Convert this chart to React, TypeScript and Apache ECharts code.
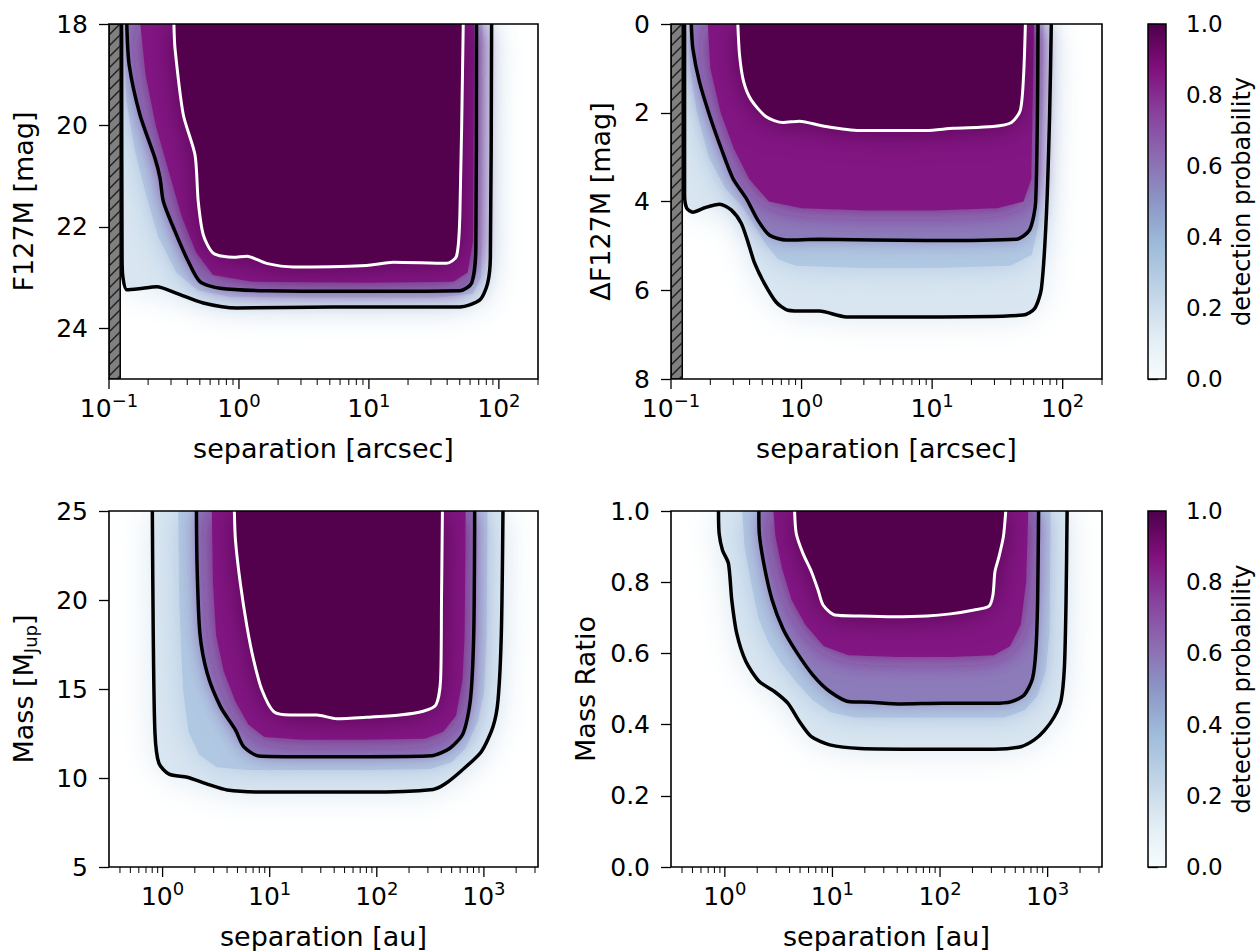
import React, { useEffect, useRef } from 'react';
import * as echarts from 'echarts';

type Pt = [number, number];

const FONT = 'DejaVu Sans';
const TEXT = '#000000';

// BuPu colormap stops (0 -> 1)
const BUPU = ['#f7fcfd', '#e0ecf4', '#bfd3e6', '#9ebcda', '#8c96c6', '#8c6bb1', '#88419d', '#810f7c', '#4d004b'];

// detection-probability levels of the contour arrays (0.3 and 0.7 only shade, not drawn as lines)
const contourLevels = [0.1, 0.3, 0.5, 0.7, 0.9];

// ---------- ticks ----------
const arcsecMajorTicks = [0.1, 1, 10, 100];
const arcsecMinorTicks = [0.2, 0.3, 0.4, 0.5, 0.6, 0.7, 0.8, 0.9, 2, 3, 4, 5, 6, 7, 8, 9, 20, 30, 40, 50, 60, 70, 80, 90, 200];
const auMajorTicks = [1, 10, 100, 1000];
const auMinorTicks = [0.4, 0.5, 0.6, 0.7, 0.8, 0.9, 2, 3, 4, 5, 6, 7, 8, 9, 20, 30, 40, 50, 60, 70, 80, 90, 200, 300, 400, 500, 600, 700, 800, 900, 2000, 3000];
const magTicks = [18, 20, 22, 24];
const dmagTicks = [0, 2, 4, 6, 8];
const massTicks = [5, 10, 15, 20, 25];
const ratioTicks = [0, 0.2, 0.4, 0.6, 0.8, 1.0];
const probTicks = [0, 0.2, 0.4, 0.6, 0.8, 1.0];

// inner working angle (hatched), arcsec
const innerWorkingAngle = 0.122;

// ---------- top-left: F127M vs separation [arcsec] ----------
const tlC10: Pt[] = [[0.125, 18], [0.126, 22.6], [0.128, 23.0], [0.137, 23.24], [0.17, 23.22], [0.233, 23.18], [0.332, 23.31], [0.532, 23.5], [0.96, 23.6], [5.3, 23.58], [50, 23.58], [71.4, 23.44], [82, 23.11], [86, 22.6], [87.9, 18]];
const tlC30: Pt[] = [[0.131, 18], [0.136, 19.5], [0.158, 20.5], [0.19, 21.3], [0.24, 22.2], [0.33, 22.9], [0.48, 23.25], [0.85, 23.38], [3.16, 23.4], [31.6, 23.4], [63.1, 23.32], [73, 23.0], [75, 18]];
const tlC50: Pt[] = [[0.137, 18], [0.143, 18.81], [0.173, 19.79], [0.226, 20.65], [0.247, 21.04], [0.262, 21.5], [0.322, 22.09], [0.407, 22.68], [0.501, 23.08], [0.714, 23.21], [1.63, 23.26], [9.59, 23.27], [50.1, 23.26], [61.7, 23.11], [66.5, 22.42], [67.3, 18]];
const tlC70: Pt[] = [[0.174, 18], [0.191, 19], [0.229, 20], [0.295, 21], [0.363, 21.8], [0.468, 22.5], [0.631, 22.95], [1.26, 23.08], [10, 23.1], [44.7, 23.08], [57.5, 22.9], [63.1, 22.3], [64.6, 18]];
const tlC90: Pt[] = [[0.316, 18], [0.322, 18.48], [0.373, 19.79], [0.459, 20.58], [0.486, 21.5], [0.532, 22.16], [0.635, 22.52], [0.904, 22.6], [1.15, 22.58], [1.63, 22.72], [2.62, 22.79], [9.59, 22.76], [15.4, 22.7], [39.5, 22.72], [47.2, 22.58], [50.1, 21.76], [53.2, 18]];

// ---------- top-right: delta F127M vs separation [arcsec] ----------
const trC10: Pt[] = [[0.127, 0], [0.127, 3.85], [0.132, 4.15], [0.147, 4.24], [0.181, 4.14], [0.236, 4.06], [0.289, 4.19], [0.345, 4.49], [0.388, 4.91], [0.437, 5.39], [0.52, 5.85], [0.64, 6.27], [0.785, 6.45], [1.09, 6.47], [1.37, 6.47], [2.2, 6.6], [9.02, 6.6], [49.7, 6.56], [61.0, 6.41], [68.7, 5.96], [75.0, 4.31], [79.4, 2.05], [81.8, 0]];
const trC30: Pt[] = [[0.137, 0], [0.14, 1.0], [0.158, 2.0], [0.195, 3.0], [0.26, 3.7], [0.35, 4.1], [0.43, 4.5], [0.53, 4.95], [0.66, 5.3], [0.9, 5.45], [3.16, 5.5], [10, 5.5], [39.8, 5.45], [58, 5.2], [65.5, 4.5], [70, 2.0], [71.5, 0]];
const trC50: Pt[] = [[0.143, 0], [0.147, 0.55], [0.165, 1.3], [0.197, 2.05], [0.242, 2.8], [0.298, 3.48], [0.377, 3.93], [0.462, 4.42], [0.569, 4.76], [0.762, 4.87], [1.37, 4.85], [9.02, 4.88], [44.2, 4.85], [55.8, 4.64], [62.1, 4.0], [64.7, 0]];
const trC70: Pt[] = [[0.191, 0], [0.2, 1.0], [0.24, 2.0], [0.302, 2.8], [0.398, 3.5], [0.562, 4.0], [1.0, 4.15], [3.16, 4.2], [10, 4.2], [31.6, 4.15], [50.1, 4.0], [57.5, 3.5], [60.3, 0]];
const trC90: Pt[] = [[0.325, 0], [0.335, 0.7], [0.36, 1.3], [0.411, 1.71], [0.536, 2.09], [0.719, 2.22], [0.966, 2.19], [1.46, 2.3], [2.78, 2.4], [9.02, 2.4], [14.5, 2.35], [29.2, 2.31], [40.5, 2.22], [47.4, 1.94], [50.2, 1.15], [51.8, 0]];

// ---------- bottom-left: Mass [MJup] vs separation [au] ----------
const blC10: Pt[] = [[0.802, 25], [0.818, 18.13], [0.849, 12.51], [0.925, 10.82], [1.15, 10.22], [1.7, 10.04], [2.61, 9.66], [4.0, 9.33], [9.44, 9.21], [80.5, 9.21], [336, 9.36], [432, 9.66], [617, 10.41], [946, 11.48], [1216, 12.88], [1355, 14.38], [1455, 18.13], [1507, 25]];
const blC30: Pt[] = [[1.4, 25], [1.43, 20], [1.55, 15], [1.75, 12.6], [2.2, 11.3], [3.2, 10.6], [6.31, 10.45], [79.4, 10.45], [316, 10.5], [501, 10.9], [680, 11.7], [880, 13.2], [1000, 14.8], [1060, 18], [1080, 25]];
const blC50: Pt[] = [[2.07, 25], [2.1, 21.87], [2.23, 18.13], [2.61, 15.88], [3.47, 14.01], [4.79, 12.7], [5.71, 11.76], [7.89, 11.24], [19.3, 11.2], [80.5, 11.2], [324, 11.25], [481, 11.67], [640, 12.51], [748, 14.38], [804, 18.13], [820, 25]];
const blC70: Pt[] = [[2.88, 25], [2.95, 21], [3.16, 18], [3.72, 16], [4.79, 14.3], [6.31, 13.0], [8.91, 12.3], [20.0, 12.15], [79.4, 12.15], [282, 12.2], [417, 12.6], [550, 13.5], [631, 15.5], [661, 18], [676, 25]];
const blC90: Pt[] = [[4.68, 25], [4.79, 23.37], [5.32, 20.94], [6.14, 18.5], [7.08, 16.63], [8.47, 14.94], [10.9, 13.73], [15.6, 13.54], [27.5, 13.54], [42.3, 13.33], [80.5, 13.41], [164, 13.54], [271, 13.75], [356, 14.1], [394, 15.51], [402, 20.0], [410, 25]];

// ---------- bottom-right: Mass ratio vs separation [au] ----------
const brC10: Pt[] = [[0.873, 1.0], [0.885, 0.937], [0.951, 0.89], [1.08, 0.853], [1.16, 0.75], [1.29, 0.656], [1.57, 0.577], [2.09, 0.521], [2.89, 0.493], [3.85, 0.46], [4.95, 0.408], [6.37, 0.366], [9.44, 0.343], [18.0, 0.333], [75.7, 0.331], [318, 0.331], [564, 0.338], [750, 0.357], [931, 0.383], [1153, 0.422], [1334, 0.469], [1432, 0.563], [1483, 0.75], [1517, 1.0]];
const brC30: Pt[] = [[1.45, 1.0], [1.52, 0.9], [1.75, 0.8], [2.05, 0.7], [2.55, 0.63], [3.4, 0.57], [4.6, 0.52], [6.5, 0.47], [9.6, 0.435], [16.5, 0.42], [100, 0.42], [398, 0.42], [610, 0.44], [800, 0.48], [960, 0.55], [1040, 0.66], [1065, 1.0]];
const brC50: Pt[] = [[2.07, 1.0], [2.09, 0.937], [2.33, 0.844], [2.75, 0.75], [3.46, 0.67], [4.61, 0.605], [6.59, 0.539], [9.44, 0.493], [14.5, 0.464], [22.3, 0.463], [42.6, 0.458], [108, 0.46], [318, 0.46], [454, 0.464], [605, 0.483], [724, 0.53], [778, 0.61], [807, 0.75], [824, 1.0]];
const brC70: Pt[] = [[2.82, 1.0], [2.95, 0.93], [3.39, 0.84], [4.17, 0.75], [5.62, 0.68], [8.32, 0.62], [14.1, 0.595], [39.8, 0.59], [126, 0.59], [316, 0.595], [447, 0.62], [562, 0.68], [631, 0.8], [661, 1.0]];
const brC90: Pt[] = [[4.45, 1.0], [4.61, 0.937], [5.32, 0.881], [6.37, 0.83], [7.35, 0.778], [8.18, 0.736], [10.5, 0.708], [18.0, 0.705], [36.9, 0.703], [75.7, 0.705], [125, 0.711], [207, 0.722], [285, 0.733], [310, 0.764], [324, 0.83], [353, 0.872], [388, 0.928], [408, 1.0]];

// ---------- styles ----------
const LEVEL_FILLS = ['#d9e6f1', '#b0c8e2', '#8c7cba', '#821983', '#52014e'];
const LEVEL_BLUR = [36, 30, 20, 26, 30];
const LABEL_SIZE = 25;
const NAME_SIZE = 27;

const labelStyle = { fontSize: LABEL_SIZE, fontFamily: FONT, color: TEXT };
const nameStyle = { fontSize: NAME_SIZE, fontFamily: FONT, color: TEXT };

const logLabel = (v: number) => {
  const e = Math.log10(v);
  const r = Math.round(e);
  if (Math.abs(e - r) > 1e-6) return '';
  const s = r < 0 ? '\u2212' + String(-r) : String(r);
  return `{b|10}{s|${s}}`;
};
const logRich = {
  b: { fontSize: LABEL_SIZE, fontFamily: FONT, color: TEXT },
  s: { fontSize: 18, fontFamily: FONT, color: TEXT, padding: [0, 0, 16, 0] },
};

interface Panel {
  grid: any;
  xMin: number; xMax: number;
  yMin: number; yMax: number; inverse: boolean;
  yTicks: number[]; yFmt: (v: number) => string;
  yName: string; yNameGap: number; yRich?: any;
  xName: string;
  majors: number[]; minors: number[];
  contours: Pt[][];
  hatch: boolean;
}

const panels: Panel[] = [
  {
    grid: { left: 109, top: 24, width: 429, height: 355 },
    xMin: 0.1, xMax: 200, yMin: 18, yMax: 25, inverse: true,
    yTicks: magTicks, yFmt: (v) => String(v),
    yName: 'F127M [mag]', yNameGap: 72,
    xName: 'separation [arcsec]',
    majors: arcsecMajorTicks, minors: arcsecMinorTicks,
    contours: [tlC10, tlC30, tlC50, tlC70, tlC90], hatch: true,
  },
  {
    grid: { left: 671, top: 24, width: 431, height: 355 },
    xMin: 0.1, xMax: 200, yMin: 0, yMax: 8, inverse: true,
    yTicks: dmagTicks, yFmt: (v) => String(v),
    yName: '\u0394F127M [mag]', yNameGap: 57,
    xName: 'separation [arcsec]',
    majors: arcsecMajorTicks, minors: arcsecMinorTicks,
    contours: [trC10, trC30, trC50, trC70, trC90], hatch: true,
  },
  {
    grid: { left: 109, top: 511, width: 429, height: 356 },
    xMin: 0.316, xMax: 3200, yMin: 5, yMax: 25, inverse: false,
    yTicks: massTicks, yFmt: (v) => String(v),
    yName: 'Mass [M{sub|Jup}]', yNameGap: 70,
    yRich: { sub: { fontSize: 18, fontFamily: FONT, color: TEXT, padding: [14, 0, 0, 0] } },
    xName: 'separation [au]',
    majors: auMajorTicks, minors: auMinorTicks,
    contours: [blC10, blC30, blC50, blC70, blC90], hatch: false,
  },
  {
    grid: { left: 671, top: 511, width: 431, height: 356 },
    xMin: 0.316, xMax: 3200, yMin: 0, yMax: 1, inverse: false,
    yTicks: ratioTicks, yFmt: (v) => v.toFixed(1),
    yName: 'Mass Ratio', yNameGap: 72,
    xName: 'separation [au]',
    majors: auMajorTicks, minors: auMinorTicks,
    contours: [brC10, brC30, brC50, brC70, brC90], hatch: false,
  },
];

const colorbarGrids = [
  { left: 1148, top: 24, width: 18, height: 355 },
  { left: 1148, top: 511, width: 18, height: 356 },
];

function buildOption() {
  const grid: any[] = [];
  const xAxis: any[] = [];
  const yAxis: any[] = [];
  const series: any[] = [];

  panels.forEach((p, i) => {
    grid.push({ ...p.grid, show: false, containLabel: false, outerBoundsMode: 'none' });
    xAxis.push({
      gridIndex: i, type: 'log', logBase: 10, min: p.xMin, max: p.xMax,
      axisLine: { show: false }, axisTick: { show: false }, splitLine: { show: false },
      minorTick: { show: false },
      axisLabel: { formatter: logLabel, rich: logRich, margin: 12, ...labelStyle },
      name: p.xName, nameLocation: 'middle', nameGap: 56, nameMoveOverlap: false,
      nameTextStyle: nameStyle,
    });
    yAxis.push({
      gridIndex: i, type: 'value', min: p.yMin, max: p.yMax, inverse: p.inverse,
      interval: p.yTicks[1] - p.yTicks[0],
      axisLine: { show: false },
      axisTick: { show: true, length: 10, customValues: p.yTicks, lineStyle: { color: '#000', width: 1.3 } },
      axisLabel: { customValues: p.yTicks, formatter: p.yFmt, margin: 21, ...labelStyle },
      splitLine: { show: false },
      name: p.yName, nameLocation: 'middle', nameRotate: 90, nameGap: p.yNameGap, nameMoveOverlap: false,
      nameTextStyle: { ...nameStyle, rich: p.yRich || {} },
    });

    const yMid = (p.yMin + p.yMax) / 2;

    // filled probability map (nested contour regions, softened)
    series.push({
      type: 'custom', coordinateSystem: 'cartesian2d', xAxisIndex: i, yAxisIndex: i,
      clip: true, silent: true, z: 1,
      data: [[1, yMid]],
      renderItem: (_params: any, api: any) => ({
        type: 'group',
        children: p.contours.map((pts, k) => ({
          type: 'polygon',
          shape: { points: pts.map((q) => api.coord(q)) },
          style: { fill: LEVEL_FILLS[k], shadowBlur: LEVEL_BLUR[k], shadowColor: LEVEL_FILLS[k] },
        })),
      }),
    });

    // contour lines: 0.1 and 0.5 black, 0.9 white
    [0, 2, 4].forEach((k) => {
      series.push({
        type: 'line', xAxisIndex: i, yAxisIndex: i, data: p.contours[k],
        name: `p=${contourLevels[k]}`,
        showSymbol: false, symbol: 'none', smooth: 0.25, clip: true, silent: true, z: 4,
        lineStyle: { color: k === 4 ? '#ffffff' : '#000000', width: k === 4 ? 3 : 3.5 },
      });
    });

    if (p.hatch) {
      series.push({
        type: 'custom', coordinateSystem: 'cartesian2d', xAxisIndex: i, yAxisIndex: i,
        clip: true, silent: true, z: 5,
        data: [[innerWorkingAngle, yMid]],
        renderItem: (_params: any, api: any) => {
          const a = api.coord([p.xMin, p.yMin]);
          const b = api.coord([innerWorkingAngle, p.yMax]);
          const x0 = Math.min(a[0], b[0]);
          const x1 = Math.max(a[0], b[0]);
          const y0 = Math.min(a[1], b[1]);
          const y1 = Math.max(a[1], b[1]);
          const w = x1 - x0;
          const children: any[] = [
            { type: 'rect', shape: { x: x0, y: y0, width: w, height: y1 - y0 }, style: { fill: '#808080', stroke: '#000', lineWidth: 1.5 } },
          ];
          for (let y = y0; y <= y1 + w + 12; y += 11) {
            children.push({ type: 'line', shape: { x1: x0, y1: y, x2: x1, y2: y - w }, style: { stroke: '#1e1e1e', lineWidth: 1.4 } });
          }
          return { type: 'group', children };
        },
      });
    }

    // frame + x ticks
    series.push({
      type: 'custom', coordinateSystem: 'cartesian2d', xAxisIndex: i, yAxisIndex: i,
      clip: false, silent: true, z: 10,
      data: [[1, yMid]],
      renderItem: (params: any, api: any) => {
        const cs = params.coordSys;
        const bottom = cs.y + cs.height;
        const children: any[] = [
          { type: 'rect', shape: { x: cs.x, y: cs.y, width: cs.width, height: cs.height }, style: { fill: 'none', stroke: '#000', lineWidth: 1.6 } },
        ];
        p.majors.forEach((v) => {
          const x = api.coord([v, p.yMin])[0];
          children.push({ type: 'line', shape: { x1: x, y1: bottom, x2: x, y2: bottom + 10 }, style: { stroke: '#000', lineWidth: 1.3 } });
        });
        p.minors.forEach((v) => {
          const x = api.coord([v, p.yMin])[0];
          children.push({ type: 'line', shape: { x1: x, y1: bottom, x2: x, y2: bottom + 6 }, style: { stroke: '#000', lineWidth: 1.0 } });
        });
        return { type: 'group', children };
      },
    });
  });

  colorbarGrids.forEach((g, j) => {
    const gi = panels.length + j;
    grid.push({ ...g, show: false, containLabel: false, outerBoundsMode: 'none' });
    xAxis.push({ gridIndex: gi, type: 'value', min: 0, max: 1, show: false });
    yAxis.push({
      gridIndex: gi, type: 'value', min: 0, max: 1, interval: 0.2, position: 'right',
      axisLine: { show: false },
      axisTick: { show: true, length: 10, lineStyle: { color: '#000', width: 1.3 } },
      axisLabel: { formatter: (v: number) => v.toFixed(1), margin: 20, customValues: probTicks, ...labelStyle, fontSize: 23 },
      splitLine: { show: false },
      name: 'detection probability', nameLocation: 'middle', nameRotate: 90, nameGap: 64, nameMoveOverlap: false,
      nameTextStyle: { ...nameStyle, fontSize: 24 },
    });
    series.push({
      type: 'custom', coordinateSystem: 'cartesian2d', xAxisIndex: gi, yAxisIndex: gi,
      clip: false, silent: true, z: 2,
      data: [[0.5, 0.5]],
      renderItem: (_params: any, api: any) => {
        const a = api.coord([0, 1]);
        const b = api.coord([1, 0]);
        return {
          type: 'rect',
          shape: { x: a[0], y: a[1], width: b[0] - a[0], height: b[1] - a[1] },
          style: {
            fill: new echarts.graphic.LinearGradient(0, 1, 0, 0, BUPU.map((c, k) => ({ offset: k / (BUPU.length - 1), color: c }))),
            stroke: '#000', lineWidth: 1.5,
          },
        };
      },
    });
  });

  return {
    animation: false,
    backgroundColor: '#ffffff',
    textStyle: { fontFamily: FONT },
    grid, xAxis, yAxis, series,
  };
}

export default function App() {
  const ref = useRef<HTMLDivElement>(null);
  useEffect(() => {
    document.body.style.margin = '0';
    if (!ref.current) return;
    const chart = echarts.init(ref.current, null, { renderer: 'svg' });
    chart.setOption(buildOption() as any);
    return () => chart.dispose();
  }, []);
  return <div ref={ref} style={{ width: 1257, height: 951 }} />;
}
